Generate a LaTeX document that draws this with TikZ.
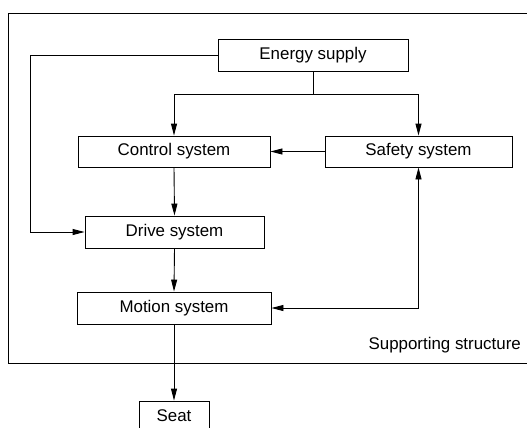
\documentclass[tikz,border=0pt]{standalone}
\usepackage{fontspec}
\setmainfont{Liberation Sans}
\usetikzlibrary{arrows.meta}
\begin{document}
\begin{tikzpicture}[x=1pt,y=-1pt,
  box/.style={draw, line width=0.9pt, inner sep=0pt, font=\fontsize{16.9}{20}\selectfont},
  conn/.style={line width=0.9pt},
  arr/.style={conn, -{Triangle[length=12pt,width=6pt]}},
  darr/.style={conn, {Triangle[length=12pt,width=6pt]}-{Triangle[length=12pt,width=6pt]}}]
\useasboundingbox (0,0) rectangle (527,428);
\draw[line width=0.9pt] (8,13) rectangle (545,363);
\node[box, minimum width=190pt, minimum height=32pt] (energy) at (313,55) {Energy supply};
\node[box, minimum width=192pt, minimum height=31pt] (control) at (174,151.5) {Control system};
\node[box, minimum width=187pt, minimum height=31pt] (safety) at (418.5,151.5) {Safety system};
\node[box, minimum width=179pt, minimum height=32pt] (drive) at (174.5,232) {Drive system};
\node[box, minimum width=194pt, minimum height=32pt] (motion) at (174,308) {Motion system};
\node[box, minimum width=70pt, minimum height=30pt] (seat) at (174,416) {Seat};
\node[anchor=east, inner sep=0pt, font=\fontsize{16.9}{20}\selectfont] (support) at (521,345) {Supporting structure};
\coordinate (L) at (30,55);
\draw[arr] (energy.west) -- (L) |- (drive.west);
\draw[conn] (energy.south) -- ++(0,23) coordinate (J);
\draw[arr] (J) -| (control.north);
\draw[arr] (J) -| (safety.north);
\draw[arr] (safety.west) -- (control.east);
\draw[arr] (control.south) -- (drive.north);
\draw[arr] (drive.south) -- (motion.north);
\draw[arr] (motion.south) -- (seat.north);
\draw[darr] (motion.east) -- (safety.south |- motion.east) -- (safety.south);
\end{tikzpicture}
\end{document}
